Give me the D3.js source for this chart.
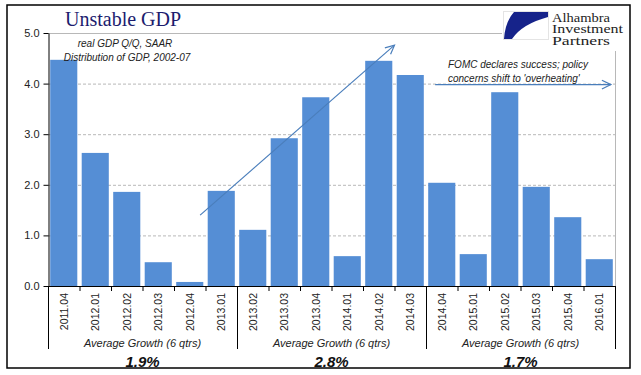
<!DOCTYPE html>
<html>
<head>
<meta charset="utf-8">
<script src="https://cdn.jsdelivr.net/npm/d3@7"></script>
<style>
  body { margin: 0; background: #fff; }
  text { font-family: "Liberation Sans", Arial, sans-serif; }
</style>
</head>
<body>
<div id="chart"></div>
<script>
// quarters on the x axis
const quarters = [
  "2011.04", "2012.01", "2012.02", "2012.03", "2012.04", "2013.01",
  "2013.02", "2013.03", "2013.04", "2014.01", "2014.02", "2014.03",
  "2014.04", "2015.01", "2015.02", "2015.03", "2015.04", "2016.01"
];
// real GDP growth, Q/Q SAAR
const growth = [
  4.47, 2.63, 1.86, 0.47, 0.08, 1.88,
  1.11, 2.92, 3.73, 0.59, 4.45, 4.17,
  2.04, 0.63, 3.83, 1.96, 1.36, 0.53
];
const yTicks = [0, 1, 2, 3, 4, 5];
// groups of 6 quarters and their averages
const groupLabels = ["Average Growth (6 qtrs)", "Average Growth (6 qtrs)", "Average Growth (6 qtrs)"];
const groupAverages = ["1.9%", "2.8%", "1.7%"];
const groupSize = 6;

const W = 641, H = 375;
const barColor = "#558ed5";
const arrowColor = "#4a7ebb";

const svg = d3.select("#chart").append("svg")
  .attr("width", W).attr("height", H);

// outer frame
svg.append("rect")
  .attr("x", 7).attr("y", 5).attr("width", 623).attr("height", 363)
  .attr("fill", "#fff").attr("stroke", "#000").attr("stroke-width", 1.5);

const x = d3.scaleBand().domain(quarters).range([48, 615])
  .paddingInner(0.14).paddingOuter(0.07);
const y = d3.scaleLinear().domain([0, 5]).range([286, 33]);

// position in "category units" from the left edge of the plot
const xAt = (i) => x.range()[0] + i * x.step();

// gridlines
svg.append("g").selectAll("line")
  .data(yTicks.filter((d) => d > 0))
  .join("line")
  .attr("x1", 48).attr("x2", 615)
  .attr("y1", (d) => y(d) + 0.5).attr("y2", (d) => y(d) + 0.5)
  .attr("stroke", "#b8b8b8")
  .attr("stroke-dasharray", (d) => (d === 5 ? null : "3,2"));

// right edge of plot area
svg.append("line")
  .attr("x1", 615.5).attr("x2", 615.5).attr("y1", y(5)).attr("y2", y(0))
  .attr("stroke", "#b8b8b8");

// bars
svg.append("g").selectAll("rect")
  .data(growth)
  .join("rect")
  .attr("x", (d, i) => x(quarters[i]))
  .attr("width", x.bandwidth())
  .attr("y", (d) => y(d))
  .attr("height", (d) => y(0) - y(d))
  .attr("fill", barColor);

// y axis
const yAxis = svg.append("g")
  .attr("transform", "translate(48.5,0)")
  .call(d3.axisLeft(y).tickValues(yTicks).tickFormat(d3.format(".1f"))
    .tickSize(5).tickSizeOuter(0));
yAxis.select(".domain").attr("stroke", "#000");
yAxis.selectAll(".tick line").attr("stroke", "#000");
yAxis.selectAll(".tick text")
  .attr("font-size", "11px").attr("fill", "#222")
  .attr("font-family", "Liberation Sans, Arial, sans-serif")
  .attr("x", -9);

// x baseline
svg.append("line")
  .attr("x1", 48).attr("x2", 616).attr("y1", y(0) + 0.5).attr("y2", y(0) + 0.5)
  .attr("stroke", "#000");

// small ticks between categories
svg.append("g").selectAll("line")
  .data(d3.range(1, quarters.length).filter((i) => i % groupSize !== 0))
  .join("line")
  .attr("x1", (i) => xAt(i) + 0.5).attr("x2", (i) => xAt(i) + 0.5)
  .attr("y1", y(0)).attr("y2", y(0) + 5)
  .attr("stroke", "#000");

// group separators
svg.append("g").selectAll("line")
  .data(d3.range(0, quarters.length + 1, groupSize))
  .join("line")
  .attr("x1", (i) => xAt(i) + 0.5).attr("x2", (i) => xAt(i) + 0.5)
  .attr("y1", y(0)).attr("y2", 349)
  .attr("stroke", "#000");

// rotated category labels
svg.append("g").selectAll("text")
  .data(quarters)
  .join("text")
  .attr("transform", (d) => `translate(${x(d) + x.bandwidth() / 2 + 4},293) rotate(-90)`)
  .attr("text-anchor", "end")
  .attr("font-size", "10.5px")
  .attr("fill", "#222")
  .text((d) => d);

// group labels and averages
const groupCenter = (g) => (xAt(g * groupSize) + xAt((g + 1) * groupSize)) / 2;
svg.append("g").selectAll("text")
  .data(groupLabels)
  .join("text")
  .attr("x", (d, g) => groupCenter(g)).attr("y", 347)
  .attr("text-anchor", "middle")
  .attr("font-size", "11px").attr("font-style", "italic").attr("fill", "#222")
  .text((d) => d);

svg.append("g").selectAll("text")
  .data(groupAverages)
  .join("text")
  .attr("x", (d, g) => groupCenter(g)).attr("y", 367)
  .attr("text-anchor", "middle")
  .attr("font-size", "15px").attr("font-style", "italic").attr("font-weight", "bold")
  .attr("fill", "#111")
  .text((d) => d);

// title
svg.append("text")
  .attr("x", 65).attr("y", 26)
  .style("font-family", "'Liberation Serif', 'DejaVu Serif', serif")
  .attr("font-size", "20px").attr("fill", "#1c1c6e")
  .text("Unstable GDP");

// notes
const note = (txt, xx, yy, anchor) =>
  svg.append("text")
    .attr("x", xx).attr("y", yy).attr("text-anchor", anchor)
    .attr("font-size", "10px").attr("font-style", "italic").attr("fill", "#222")
    .text(txt);
note("real GDP Q/Q, SAAR", 125, 47, "middle");
note("Distribution of GDP, 2002-07", 127, 61, "middle");
note("FOMC declares success; policy", 448, 68, "start");
note("concerns shift to 'overheating'", 448, 82, "start");

// arrows
const arrow = (x1, y1, x2, y2) => {
  svg.append("line")
    .attr("x1", x1).attr("y1", y1).attr("x2", x2).attr("y2", y2)
    .attr("stroke", arrowColor).attr("stroke-width", 1.2);
  const a = Math.atan2(y2 - y1, x2 - x1), L = 10, s = 0.45;
  const p = [
    [x2 - L * Math.cos(a - s), y2 - L * Math.sin(a - s)],
    [x2, y2],
    [x2 - L * Math.cos(a + s), y2 - L * Math.sin(a + s)]
  ];
  svg.append("path")
    .attr("d", d3.line()(p))
    .attr("fill", "none").attr("stroke", arrowColor).attr("stroke-width", 1.2);
};
arrow(xAt(4.83), y(1.4), xAt(11.0), y(4.76));
arrow(xAt(12.29), y(3.98), xAt(17.87), y(3.98));

// logo
const logo = svg.append("g");
logo.append("rect")
  .attr("x", 502).attr("y", 7).attr("width", 127).attr("height", 44)
  .attr("fill", "#fff");
logo.append("rect")
  .attr("x", 503.5).attr("y", 11.5).attr("width", 45).attr("height", 28)
  .attr("fill", "none").attr("stroke", "#e4e4e4");
logo.append("path")
  .attr("d", "M514,12 L548,12 L548,17 Q522,24 512,39 L504,39 Q505,22 514,12 Z")
  .attr("fill", "#16238a");
logo.selectAll("text.logo")
  .data(["Alhambra", "Investment", "Partners"])
  .join("text")
  .attr("x", 552).attr("y", (d, i) => 21.5 + i * 11.8)
  .style("font-family", "'Liberation Serif', 'DejaVu Serif', serif")
  .attr("font-size", "11.5px").attr("fill", "#222")
  .attr("textLength", (d, i) => [58, 71, 58][i])
  .attr("lengthAdjust", "spacingAndGlyphs")
  .text((d) => d);
</script>
</body>
</html>
